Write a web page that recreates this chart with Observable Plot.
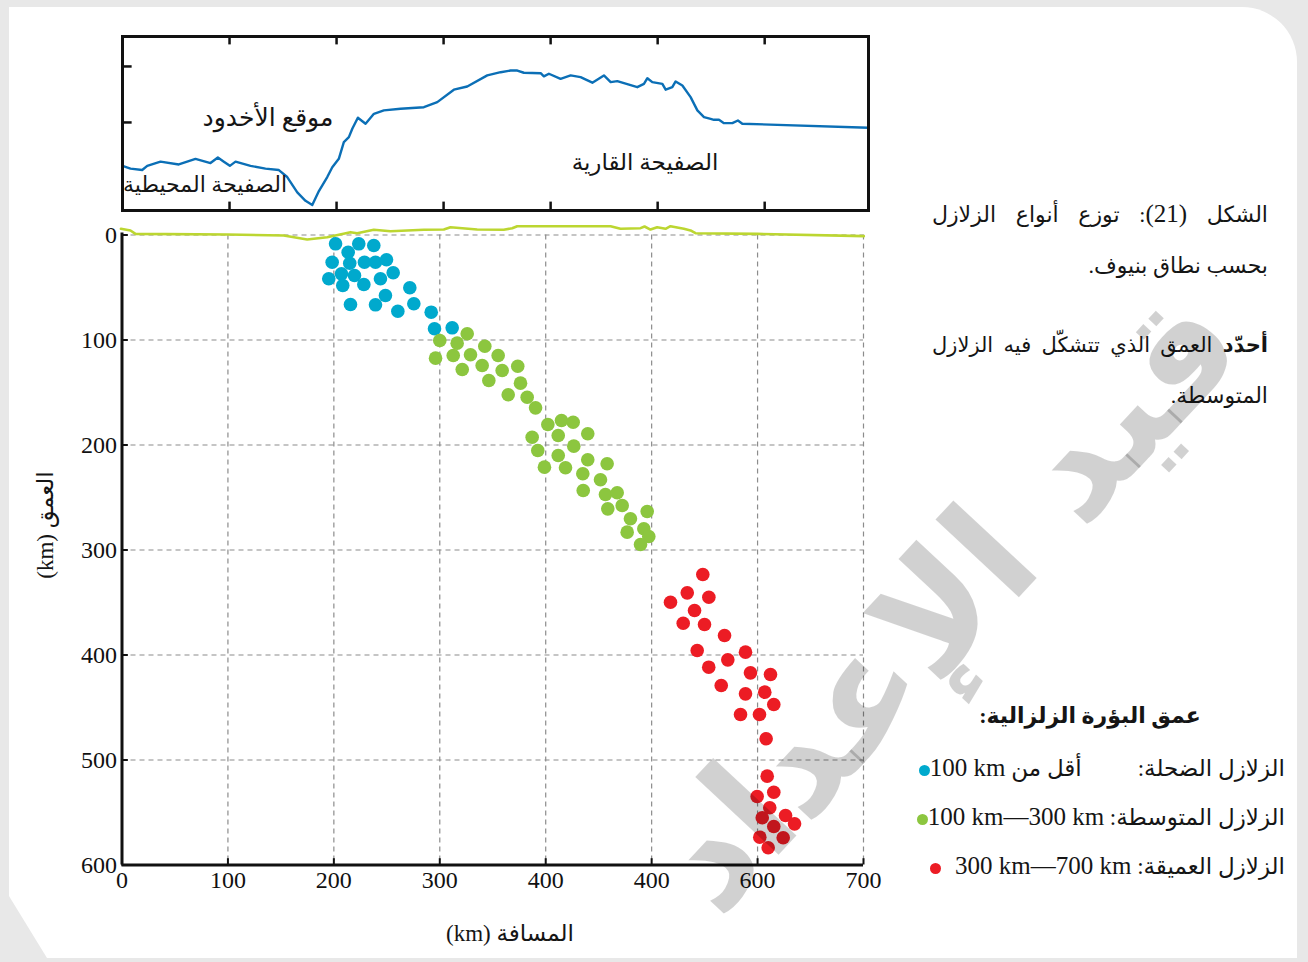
<!DOCTYPE html>
<html><head><meta charset="utf-8">
<script src="https://cdn.jsdelivr.net/npm/d3@7"></script>
<script src="https://cdn.jsdelivr.net/npm/@observablehq/plot@0.6"></script>
<style>
html,body{margin:0;padding:0;background:#e8e8e8;}
#wrap{position:relative;width:1308px;height:962px;overflow:hidden;font-family:"Liberation Serif","DejaVu Sans",serif;color:#151515;}
#card{position:absolute;left:9px;top:7px;width:1288px;height:951px;background:#fff;border-top-right-radius:55px;clip-path:polygon(0 0,100% 0,100% 100%,38px 100%,0 calc(100% - 62px));}
.abs{position:absolute;white-space:nowrap;}
.c{transform:translate(-50%,-50%);}
.rtl{direction:rtl;}
.just{text-align:justify;text-align-last:justify;white-space:normal;}
.num{font-size:25px;}
.dot{display:inline-block;width:11px;height:11px;border-radius:50%;vertical-align:middle;margin-left:2px;}
#wm{position:absolute;left:945px;top:600px;transform:translate(-50%,-50%) rotate(-47deg);font-family:"DejaVu Sans",sans-serif;font-weight:bold;font-size:150px;line-height:1;color:rgba(0,0,0,0.18);white-space:nowrap;pointer-events:none;}
svg{position:absolute;left:0;overflow:visible;}
</style>
</head><body>
<div id="wrap">
<div id="card"></div>
<div id="topPlot"></div>
<div id="mainPlot"></div>

<div class="abs c" style="left:268px;top:117px;font-size:25px;">موقع الأخدود</div>
<div class="abs c" style="left:205px;top:185px;font-size:22px;">الصفيحة المحيطية</div>
<div class="abs c" style="left:645px;top:162px;font-size:23px;">الصفيحة القارية</div>

<div class="abs c" style="left:45px;top:525px;font-size:23px;transform:translate(-50%,-50%) rotate(-90deg);">(km) العمق</div>
<div class="abs c" style="left:510px;top:933px;font-size:23px;">(km) المسافة</div>

<div class="abs rtl just" style="right:40px;top:199px;width:336px;font-size:22px;line-height:30px;">الشكل <span class="num">(21)</span>: توزع أنواع الزلازل</div>
<div class="abs rtl" style="right:40px;top:251px;font-size:22px;line-height:30px;">بحسب نطاق بنيوف.</div>
<div class="abs rtl just" style="right:40px;top:330px;width:336px;font-size:21px;line-height:30px;"><b>أحدّد</b> العمق الذي تتشكّل فيه الزلازل</div>
<div class="abs rtl" style="right:40px;top:381px;font-size:22px;line-height:30px;">المتوسطة.</div>

<div class="abs c rtl" style="left:1090px;top:716px;font-size:22px;font-weight:bold;">عمق البؤرة الزلزالية:</div>
<div id="legend"></div>

<div id="wm">قيد الإعداد</div>
</div>
<script>
// ---- top panel: surface elevation profile (km along section, elevation km)
const profileKm = [0,7.5,18.4,23.1,35.5,52.6,68.2,82.2,89.1,94.7,100.3,105.6,119.6,133.6,146.1,153.9,163.3,171,177.3,183.5,191.3,196,202.1,206.8,211.5,214.7,219.9,227.1,234.9,244.2,259.8,281.6,294.1,309.6,322.1,340.8,353.3,362.6,368.9,375,390.7,393.7,398.4,409.3,418.7,428,439,449.8,456.1,462.3,481,487.2,490.4,495,504.4,507.5,513.7,516.8,523.1,530.8,537.1,543.3,549.5,552.6,557.3,562,569.8,575,579.1,697];
const profileElev = [-3.1,-3.3,-3.4,-3.1,-2.8,-3.0,-2.6,-2.9,-2.5,-2.8,-3.1,-2.8,-3.1,-3.3,-3.4,-3.9,-5.0,-5.6,-5.9,-4.9,-3.9,-3.2,-2.6,-1.4,-1.05,-0.45,0.34,-0.09,0.62,0.86,0.98,1.09,1.45,2.34,2.57,3.36,3.59,3.71,3.71,3.55,3.52,3.29,3.48,3.12,3.36,3.24,2.84,3.36,2.88,2.95,2.52,2.76,3.16,2.88,2.76,2.34,2.52,2.93,2.64,1.81,0.86,0.38,0.26,0.19,0.19,-0.05,-0.05,0.14,-0.09,-0.38];
const topXDomain = [0, 697];
const topYDomain = [-6.29, 6.14];
const topXTicks = [100,200,300,400,500,600];
const topYTicks = [0,4];

// ---- main panel: surface line (km, depth km, negative = above sea level)
const surfKm = [-1,8,12.7,99.3,152.7,174.8,193.7,215.7,222,237.7,253.5,284.9,303.8,310.1,335.3,360.4,368.4,373.1,461.2,470.6,489.5,493.3,498.9,505.2,513.1,517.8,530.4,536.7,541.4,599.6,700.3];
const surfDepth = [-5.9,-4.3,-1.1,-0.5,0.5,4.3,2.1,-2.7,-1.7,-5,-3.6,-5,-5.2,-7.4,-5.2,-5,-6.5,-8.4,-8.4,-5.9,-6.5,-8.1,-5.2,-7.4,-5.9,-8.4,-5.9,-4.3,-1.7,-1.1,1.1];

// ---- earthquake foci
const shallowX = [201.6,223.5,237.7,213.5,198.4,215,228.9,239.3,249.7,207.2,219.5,256,195.2,244,208.4,228.3,271.7,248.7,215.7,239.3,260.4,275.5,291.9,295,311.7];
const shallowY = [8.4,8.4,10,16.4,25.9,26.9,25.9,25.9,23.6,37,38.6,36,41.7,41.7,48.1,47.1,50.3,57.6,66.2,66.5,72.6,65.5,73.5,89.3,88.4];
const interX = [300,325.9,316.4,296,312.7,329,342.5,355.1,321.2,340,358.9,373.6,346.3,376.2,364.6,382.5,390.4,402,414.9,425.9,387.2,411.8,439.7,392.5,426.5,411.8,398.8,418.7,439.7,458,435,451.7,435.4,456.4,467.5,458.6,472.2,480,495.8,476.9,492.6,497.3,489.5];
const interY = [100.5,94.1,103,117.3,114.8,114.1,105.9,114.8,128.1,124.3,129,125,138.6,141.1,152.2,154.5,164.6,180.5,176.7,178.3,192.6,191,189.3,205.2,201.1,210,221.1,221.7,214.1,217.9,227.4,233.1,243.3,247.1,245.5,260.8,257.6,270.3,263.3,283,279.8,287.1,294.8];
const deepX = [548.3,533.6,554,517.8,540.5,529.8,549.9,568.8,543,571.9,588.6,553.9,593.3,612.2,565.7,588.6,606.8,615.3,583.9,601.8,608.1,609.1,615.3,599.6,611.5,604.4,626.4,634.9,615.3,602.1,624.2,610];
const deepY = [323.3,340.8,345,349.7,357.6,369.7,371,381.4,395.7,404.6,397.3,411.6,417,418.6,429,437,435.4,447.1,456.7,456.7,479.8,515.4,530.7,534.8,545.5,555,552.9,560.8,563.3,573.5,574.1,583.6];

const xTicks = [0,100,200,300,400,500,600,700];
const xTickLabels = ["0","100","200","300","400","400","600","700"];
const yTicks = [0,100,200,300,400,500,600];
const yTickLabels = ["0","100","200","300","400","500","600"];
const xGrid = [100,200,300,400,500,600,700];
const yGrid = [0,100,200,300,400,500];

const seriesNames = ["الزلازل الضحلة:","الزلازل المتوسطة:","الزلازل العميقة:"];
const seriesRanges = ["100 km","100 km—300 km","300 km—700 km"];
const seriesColors = ["#00a9cd","#8cc63f","#ec1c24"];

const zip = (xs, ys) => xs.map((x, i) => ({x, y: ys[i]}));
const profile = zip(profileKm, profileElev);
const surface = zip(surfKm, surfDepth);
const shallow = zip(shallowX, shallowY);
const inter = zip(interX, interY);
const deep = zip(deepX, deepY);

const ink = "#111";
const topSvg = Plot.plot({
  width: 900, height: 230,
  marginLeft: 122, marginRight: 32, marginTop: 36, marginBottom: 20,
  x: {domain: topXDomain, axis: null},
  y: {domain: topYDomain, axis: null},
  style: {background: "transparent"},
  marks: [
    Plot.ruleX(topXTicks, {y1: topYDomain[1], y2: topYDomain[1] - 0.6, stroke: ink, strokeWidth: 2.5}),
    Plot.ruleX(topXTicks, {y1: topYDomain[0], y2: topYDomain[0] + 0.6, stroke: ink, strokeWidth: 2.5}),
    Plot.ruleY(topYTicks, {x1: 0, x2: 9, stroke: ink, strokeWidth: 2.5}),
    Plot.line(profile, {x: "x", y: "y", stroke: "#0b6fb6", strokeWidth: 2.4}),
    Plot.frame({stroke: ink, strokeWidth: 3})
  ]
});
topSvg.style.top = "0px";
document.getElementById("topPlot").appendChild(topSvg);

const mainSvg = Plot.plot({
  width: 900, height: 740,
  marginLeft: 121.5, marginRight: 37, marginTop: 19.5, marginBottom: 90.5,
  x: {domain: [0, 700]},
  y: {domain: [0, 600], reverse: true},
  style: {background: "transparent", fontFamily: "Liberation Serif, serif", fontSize: "24px", color: ink},
  marks: [
    Plot.gridX({ticks: xGrid, stroke: "#8c8c8c", strokeOpacity: 1, strokeWidth: 1.2, strokeDasharray: "5,4"}),
    Plot.gridY({ticks: yGrid, stroke: "#8c8c8c", strokeOpacity: 1, strokeWidth: 1.2, strokeDasharray: "5,4"}),
    Plot.line(surface, {x: "x", y: "y", stroke: "#bcd631", strokeWidth: 2.6}),
    Plot.dot(shallow, {x: "x", y: "y", r: 6.8, fill: seriesColors[0]}),
    Plot.dot(inter, {x: "x", y: "y", r: 6.8, fill: seriesColors[1]}),
    Plot.dot(deep, {x: "x", y: "y", r: 6.8, fill: seriesColors[2]}),
    Plot.ruleX([0], {y1: -2, y2: 600, stroke: ink, strokeWidth: 3}),
    Plot.ruleY([600], {x1: 0, x2: 700, stroke: ink, strokeWidth: 3}),
    Plot.ruleX(xTicks, {y1: 600, y2: 594, stroke: ink, strokeWidth: 2}),
    Plot.ruleY(yTicks, {x1: 0, x2: 6, stroke: ink, strokeWidth: 2}),
    Plot.axisX({ticks: xTicks, tickFormat: d => xTickLabels[xTicks.indexOf(d)], tickSize: 0, tickPadding: 6, label: null}),
    Plot.axisY({ticks: yTicks, tickFormat: d => yTickLabels[yTicks.indexOf(d)], tickSize: 0, tickPadding: 5, label: null})
  ]
});
mainSvg.style.top = "215px";
document.getElementById("mainPlot").appendChild(mainSvg);

// legend rows
const legendTops = [768, 817, 866];
const legend = document.getElementById("legend");
seriesNames.forEach((name, i) => {
  const row = document.createElement("div");
  row.className = "abs rtl";
  row.style.cssText = `right:23px;top:${legendTops[i] - 15}px;font-size:23px;line-height:30px;`;
  const gap = i === 0 ? `<span style="display:inline-block;width:56px"></span>أقل من ` : " ";
  const tail = i === 2 ? `<span style="display:inline-block;width:14px"></span>` : "";
  row.innerHTML = `<span>${name}</span>${gap}<span dir="ltr" class="num">${seriesRanges[i]}</span>${tail}<span class="dot" style="background:${seriesColors[i]}"></span>`;
  legend.appendChild(row);
});
</script>
</body></html>
